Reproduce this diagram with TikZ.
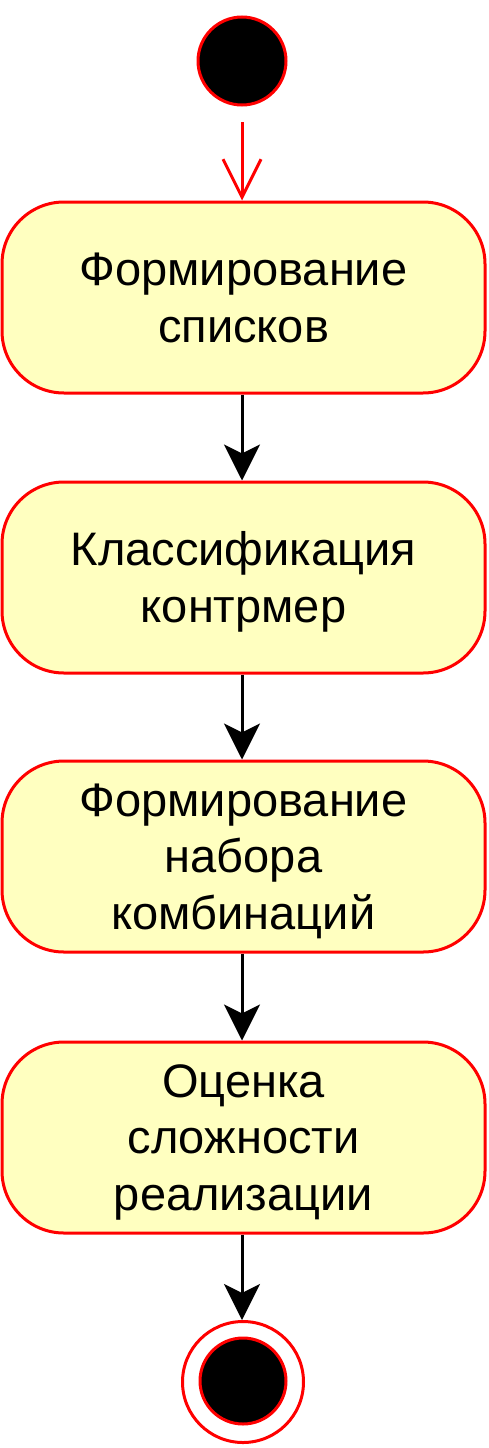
\documentclass[tikz,border=0pt]{standalone}
\usepackage{fontspec}
\setmainfont{Liberation Sans}
\usetikzlibrary{arrows.meta}
\definecolor{actfill}{HTML}{FFFFC0}
\definecolor{actline}{HTML}{FF0000}
% line box of one text line: 44.5pt above the baseline, 11.9pt below
\newcommand{\actstrut}{\rule[-11.9pt]{0pt}{56.4pt}}
\begin{document}
\begin{tikzpicture}[x=1pt,y=-1pt,
  activity/.style={draw=actline, fill=actfill, line width=3pt, rectangle,
    rounded corners=62pt, minimum width=483pt, minimum height=191pt,
    text width=460pt, align=center, inner sep=0pt,
    font=\fontsize{47}{56.4}\selectfont},
  startdot/.style={draw=actline, fill=black, line width=3pt, circle,
    minimum size=88pt, inner sep=0pt},
  endring/.style={draw=actline, fill=white, line width=3pt, circle,
    minimum size=121pt, inner sep=0pt},
  enddot/.style={draw=actline, fill=black, line width=3pt, circle,
    minimum size=86pt, inner sep=0pt},
  flow/.style={line width=3pt, black,
    -{Stealth[length=36pt, width=36pt, inset=9pt]}},
  initflow/.style={line width=3pt, actline,
    -{Straight Barb[length=38pt, width=38pt]}}
]
\useasboundingbox (0,0) rectangle (488,1448);

\node[startdot] (start) at (242,61) {};

\node[activity] (lists) at (243.5,297.5)
  {\actstrut Формирование\\\actstrut списков};
\node[activity] (classify) at (243.5,577.5)
  {\actstrut Классификация\\\actstrut контрмер};
\node[activity] (combos) at (243.5,856.5)
  {\actstrut Формирование\\\actstrut набора\\\actstrut комбинаций};
\node[activity] (estimate) at (243.5,1137.5)
  {\actstrut Оценка\\\actstrut сложности\\\actstrut реализации};

\node[endring] (final) at (243,1382) {};
\node[enddot] (finaldot) at (243,1381) {};

\draw[initflow] (242,122) -- (lists.north -| start);
\draw[flow] (lists.south -| start) -- (classify.north -| start);
\draw[flow] (classify.south -| start) -- (combos.north -| start);
\draw[flow] (combos.south -| start) -- (estimate.north -| start);
\draw[flow] (estimate.south -| start) -- (final.north -| start);
\end{tikzpicture}
\end{document}
